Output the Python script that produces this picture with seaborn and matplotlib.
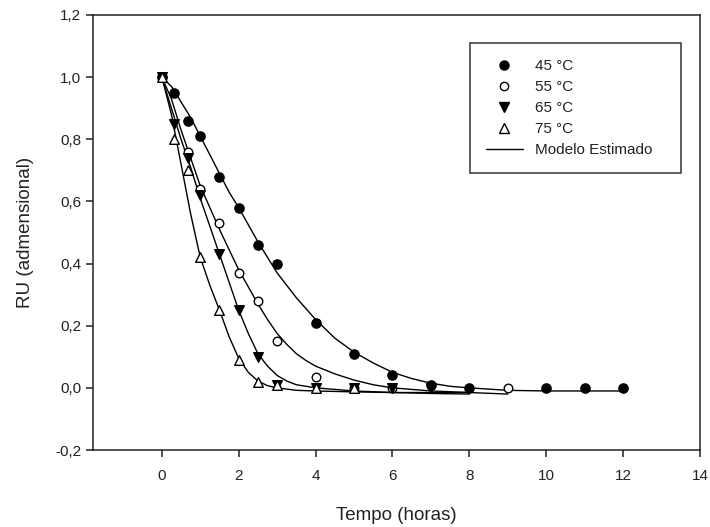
import matplotlib
matplotlib.use("Agg")
import matplotlib.pyplot as plt
from matplotlib.lines import Line2D
from matplotlib.ticker import FuncFormatter
import seaborn as sns

t45 = [0, 0.33, 0.67, 1, 1.5, 2, 2.5, 3, 4, 5, 6, 7, 8, 10, 11, 12]
ru45 = [1.0, 0.95, 0.86, 0.81, 0.68, 0.58, 0.46, 0.40, 0.21, 0.11, 0.04, 0.01, 0.0, 0.0, 0.0, 0.0]

t55 = [0, 0.67, 1, 1.5, 2, 2.5, 3, 4, 5, 6, 9]
ru55 = [1.0, 0.76, 0.64, 0.53, 0.37, 0.28, 0.15, 0.035, 0.0, 0.0, 0.0]

t65 = [0, 0.33, 0.67, 1, 1.5, 2, 2.5, 3, 4, 5, 6, 7]
ru65 = [1.0, 0.85, 0.74, 0.62, 0.43, 0.25, 0.10, 0.01, 0.0, 0.0, 0.0, 0.0]

t75 = [0, 0.33, 0.67, 1, 1.5, 2, 2.5, 3, 4, 5]
ru75 = [1.0, 0.80, 0.70, 0.42, 0.25, 0.09, 0.02, 0.01, 0.0, 0.0]

# ---- estimated model curves ----
mt45 = [0, 0.25, 0.5, 0.75, 1, 1.25, 1.5, 1.75, 2, 2.5, 3, 3.5, 4, 4.5, 5, 5.5, 6, 6.5, 7, 7.5,
        8, 9, 10, 11, 12]
mru45 = [1.0, 0.97, 0.92, 0.87, 0.81, 0.75, 0.69, 0.63, 0.58, 0.47, 0.37, 0.29, 0.22, 0.16, 0.115,
         0.08, 0.05, 0.03, 0.015, 0.005, 0.0, -0.008, -0.01, -0.01, -0.01]

mt55 = [0, 0.25, 0.5, 0.75, 1, 1.25, 1.5, 1.75, 2, 2.25, 2.5, 2.75, 3, 3.25, 3.5, 3.75, 4, 4.5, 5,
        5.5, 6, 7, 8, 9]
mru55 = [1.0, 0.93, 0.83, 0.74, 0.65, 0.58, 0.51, 0.445, 0.38, 0.325, 0.27, 0.22, 0.175, 0.14,
         0.11, 0.088, 0.07, 0.045, 0.025, 0.01, 0.0, -0.01, -0.015, -0.02]

mt65 = [0, 0.25, 0.5, 0.75, 1, 1.25, 1.5, 1.75, 2, 2.25, 2.5, 2.75, 3, 3.25, 3.5, 4, 5, 6, 7, 8]
mru65 = [1.0, 0.90, 0.80, 0.71, 0.61, 0.52, 0.43, 0.34, 0.25, 0.175, 0.11, 0.07, 0.04, 0.022,
         0.01, 0.0, -0.01, -0.015, -0.018, -0.02]

mt75 = [0, 0.25, 0.5, 0.75, 1, 1.25, 1.5, 1.75, 2, 2.25, 2.5, 2.75, 3, 3.5, 4, 5, 6, 7, 8]
mru75 = [1.0, 0.88, 0.72, 0.56, 0.42, 0.33, 0.25, 0.165, 0.095, 0.05, 0.022, 0.007, 0.0, -0.008,
         -0.01, -0.013, -0.015, -0.015, -0.015]

labels = ["45 °C", "55 °C", "65 °C", "75 °C"]
model_label = "Modelo Estimado"
xticks = [0, 2, 4, 6, 8, 10, 12, 14]
yticks = [-0.2, 0.0, 0.2, 0.4, 0.6, 0.8, 1.0, 1.2]

sns.set_style("ticks")
plt.rcParams["font.family"] = ["Liberation Sans", "DejaVu Sans"]

W, H = 710, 527
L, R, T, B = 93, 700, 15, 450
fig = plt.figure(figsize=(W / 100, H / 100), dpi=100)
ax = fig.add_axes([L / W, 1 - B / H, (R - L) / W, (B - T) / H])

# model curves
for mt, mru in [(mt45, mru45), (mt55, mru55), (mt65, mru65), (mt75, mru75)]:
    sns.lineplot(x=mt, y=mru, ax=ax, color="black", linewidth=1.0, sort=False,
                 estimator=None, zorder=2)

# observed points
styles = [
    dict(marker="o", facecolor="black", s=44),
    dict(marker="o", facecolor="white", s=38),
    dict(marker="v", facecolor="black", s=48),
    dict(marker="^", facecolor="white", s=48),
]
for (tt, rr), st in zip([(t45, ru45), (t55, ru55), (t65, ru65), (t75, ru75)], styles):
    sns.scatterplot(x=tt, y=rr, ax=ax, marker=st["marker"], s=st["s"],
                    color=st["facecolor"], edgecolor="black", linewidth=1.0, zorder=3)

ax.set_xlim(-1.79, 14)
ax.set_ylim(-0.2, 1.2)
ax.set_xticks(xticks)
ax.set_yticks(yticks)
ax.yaxis.set_major_formatter(FuncFormatter(lambda v, p: f"{v:.1f}".replace(".", ",")))
ax.xaxis.set_major_formatter(FuncFormatter(lambda v, p: f"{v:.0f}"))

for s in ax.spines.values():
    s.set_visible(True)
    s.set_color("#222222")
    s.set_linewidth(1.1)
ax.tick_params(axis="both", direction="out", length=5, width=1.1, color="#222222",
               labelsize=11, labelcolor="#222222", top=False, right=False)
ax.tick_params(axis="y", pad=3.5)
ax.tick_params(axis="x", pad=9)

ax.set_xlabel("Tempo (horas)", fontsize=13.5, color="#222222", labelpad=17)
ax.set_ylabel("RU (admensional)", fontsize=13.5, color="#222222", labelpad=15)

# legend
handles = [
    Line2D([], [], linestyle="none", marker="o", markersize=6.5, markerfacecolor="black", markeredgecolor="black"),
    Line2D([], [], linestyle="none", marker="o", markersize=6, markerfacecolor="white", markeredgecolor="black"),
    Line2D([], [], linestyle="none", marker="v", markersize=6.5, markerfacecolor="black", markeredgecolor="black"),
    Line2D([], [], linestyle="none", marker="^", markersize=6.5, markerfacecolor="white", markeredgecolor="black"),
    Line2D([], [], color="black", linewidth=1.0),
]
bx0 = (470 - L) / (R - L)
bx1 = (681 - L) / (R - L)
by1 = (B - 43) / (B - T)
leg = ax.legend(handles, labels + [model_label], loc="upper left",
                bbox_to_anchor=(bx0, by1 - 0.3, bx1 - bx0, 0.3), mode="expand",
                borderaxespad=0, frameon=True, fancybox=False, fontsize=11,
                handlelength=2.4, handletextpad=0.8, labelspacing=0.46, borderpad=1.05)
leg.get_frame().set_edgecolor("black")
leg.get_frame().set_linewidth(1.1)
for txt in leg.get_texts():
    txt.set_color("#222222")

fig.savefig("out.png", dpi=100)
